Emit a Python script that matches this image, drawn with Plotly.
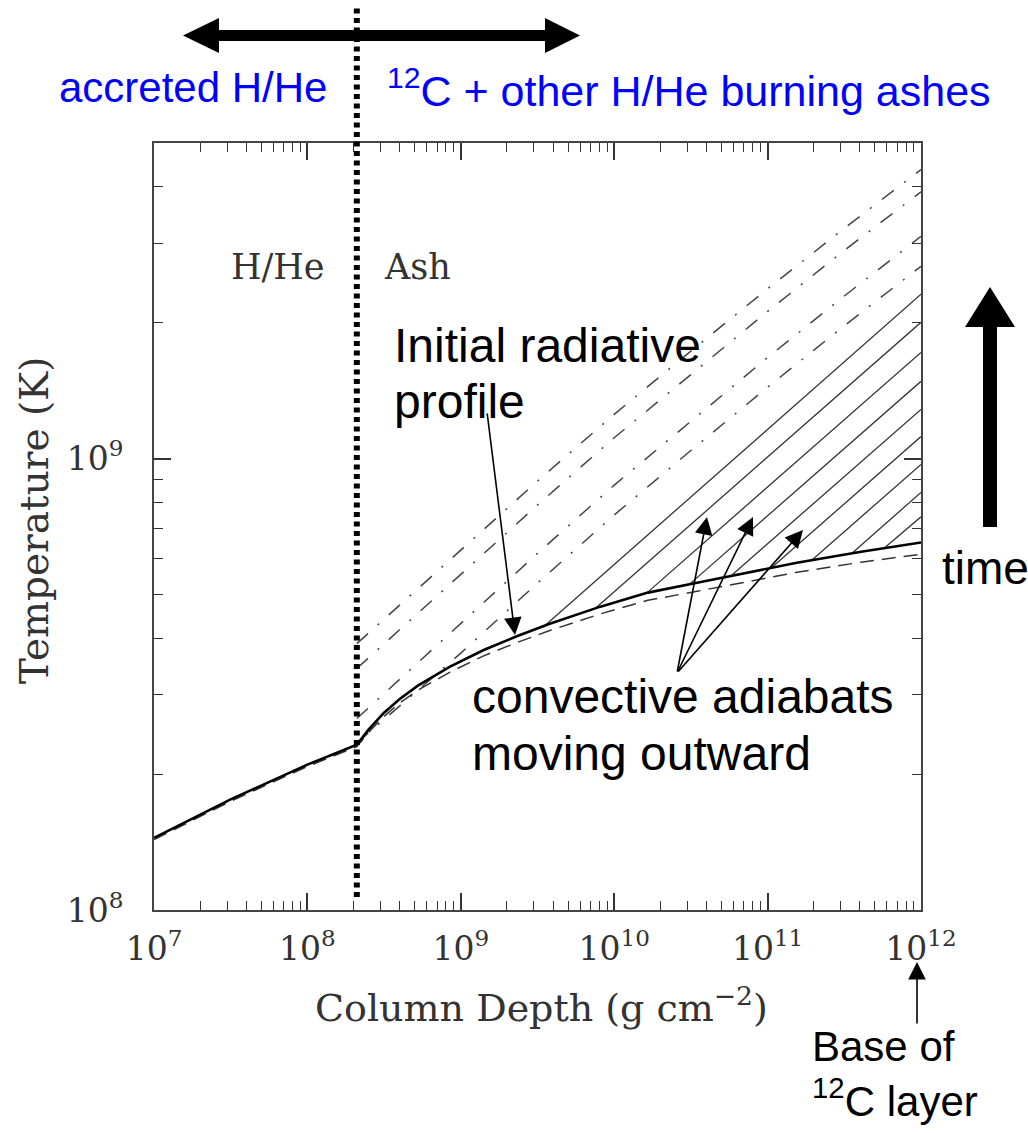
import plotly.graph_objects as go

# ---------------- data ----------------
# Initial radiative temperature profile (column depth in g cm^-2, T in 1e8 K)
profile_y = [1e7, 3.16e7, 1e8, 2.1e8, 2.51e8, 3.16e8, 3.98e8, 5.25e8, 8.51e8, 1.41e9,
             2.34e9, 3.80e9, 8.13e9, 1.66e10, 3.47e10, 7.41e10, 1.55e11, 4.17e11, 1e12]
profile_T8 = [1.445, 1.758, 2.099, 2.323, 2.512, 2.735, 2.931, 3.141, 3.459, 3.767,
              4.046, 4.305, 4.699, 5.047, 5.309, 5.585, 5.875, 6.223, 6.516]

# Comparison profile (dashed)
dashed_T8 = [1.432, 1.742, 2.080, 2.301, 2.477, 2.685, 2.871, 3.069, 3.365, 3.656,
             3.917, 4.159, 4.529, 4.853, 5.082, 5.333, 5.598, 5.902, 6.138]

# Convective adiabats at successive times (dash-dot), from the ash boundary outward
adiabat_y = [2.1e8, 1e9, 3.16e9, 1e10, 3.16e10, 1e11, 3.16e11, 1e12]
adiabat_T8 = {
    "a": [3.890, 6.281, 8.913, 12.53, 17.30, 23.77, 32.36, 43.65],
    "b": [3.428, 5.546, 7.889, 11.12, 15.38, 21.18, 28.91, 38.99],
    "c": [2.655, 4.315, 6.166, 8.730, 12.11, 16.75, 22.91, 31.05],
    "d": [2.344, 3.707, 5.297, 7.499, 10.42, 14.39, 19.68, 26.67],
}

# Hatched convective region: each adiabat runs from the radiative profile to the base
hatch_y0 = [3.45e9, 7.64e9, 1.64e10, 3.13e10, 5.81e10, 1.06e11, 1.93e11, 3.52e11, 5.69e11]
hatch_T8_0 = [4.236, 4.677, 5.047, 5.284, 5.508, 5.728, 5.943, 6.152, 6.310]
hatch_y1 = [1e12] * 9
hatch_T8_1 = [23.12, 20.04, 17.18, 14.83, 12.85, 11.19, 9.705, 8.414, 7.430]

# Boundary between accreted H/He and burning ashes
ash_boundary = 2.1e8

x_tickvals = [1e7, 1e8, 1e9, 1e10, 1e11, 1e12]
x_ticktext = ["10<sup>7</sup>", "10<sup>8</sup>", "10<sup>9</sup>",
              "10<sup>10</sup>", "10<sup>11</sup>", "10<sup>12</sup>"]
y_tickvals = [1e8, 1e9]
y_ticktext = ["10<sup>8</sup>", "10<sup>9</sup>"]

# ---------------- layout geometry ----------------
W, H = 1028, 1133
L, R, T, B = 154, 107, 143, 223
PW, PH = W - L - R, H - T - B


def pxx(px):
    return (px - L) / PW


def pxy(py):
    return (H - B - py) / PH


SERIF = "DejaVu Serif, serif"
SANS = "Arial, Liberation Sans, sans-serif"
INK = "#333333"

fig = go.Figure()

# hatch lines
hx, hy = [], []
for x0, t0, x1, t1 in zip(hatch_y0, hatch_T8_0, hatch_y1, hatch_T8_1):
    hx += [x0, x1, None]
    hy += [t0 * 1e8, t1 * 1e8, None]
fig.add_trace(go.Scatter(x=hx, y=hy, mode="lines",
                         line=dict(color=INK, width=1.3), hoverinfo="skip"))

# dash-dot adiabats
for key, vals in adiabat_T8.items():
    fig.add_trace(go.Scatter(x=adiabat_y, y=[v * 1e8 for v in vals], mode="lines",
                             line=dict(color="#444444", width=1.5,
                                       dash="15px,13px,2px,13px"),
                             hoverinfo="skip"))

# dashed profile
fig.add_trace(go.Scatter(x=profile_y, y=[v * 1e8 for v in dashed_T8], mode="lines",
                         line=dict(color=INK, width=1.5, dash="14px,8px"),
                         hoverinfo="skip"))

# initial radiative profile
fig.add_trace(go.Scatter(x=profile_y, y=[v * 1e8 for v in profile_T8], mode="lines",
                         line=dict(color="black", width=2.6), hoverinfo="skip"))

minor_x = [m * 10 ** e for e in range(7, 12) for m in range(2, 10)]
minor_y = [m * 1e8 for m in range(2, 10)] + [m * 1e9 for m in range(2, 6)]

axis_common = dict(
    type="log", showgrid=False, zeroline=False, showline=True,
    linecolor="#444444", linewidth=2, mirror="ticks",
    ticks="inside", ticklen=17, tickwidth=1.5, tickcolor=INK,
    tickfont=dict(family=SERIF, size=33, color=INK),
)

fig.update_xaxes(**axis_common, range=[7, 12], tickmode="array",
                 tickvals=x_tickvals, ticktext=x_ticktext, ticklabelstandoff=8,
                 minor=dict(tickmode="array", tickvals=minor_x, ticks="inside",
                            ticklen=9, tickwidth=1.2, tickcolor=INK, showgrid=False))
fig.update_yaxes(**axis_common, range=[8, 9.699], tickmode="array",
                 tickvals=y_tickvals, ticktext=y_ticktext, ticklabelstandoff=22,
                 minor=dict(tickmode="array", tickvals=minor_y, ticks="inside",
                            ticklen=9, tickwidth=1.2, tickcolor=INK, showgrid=False))

shapes = []
# thick dotted boundary line, extending above the frame
shapes.append(dict(type="line", xref="x", yref="paper", x0=ash_boundary, x1=ash_boundary,
                   y0=pxy(897), y1=pxy(8), line=dict(color="black", width=6,
                                                      dash="5px,4.5px"), layer="above"))


def poly(points):
    return "M " + " L ".join(f"{pxx(a):.5f},{pxy(b):.5f}" for a, b in points) + " Z"


# double-headed arrow at top
shapes.append(dict(type="path", xref="paper", yref="paper", fillcolor="black",
                   line=dict(width=0),
                   path=poly([(216, 30), (548, 30), (548, 41), (216, 41)])))
shapes.append(dict(type="path", xref="paper", yref="paper", fillcolor="black",
                   line=dict(width=0),
                   path=poly([(183, 35.5), (219, 18), (219, 53)])))
shapes.append(dict(type="path", xref="paper", yref="paper", fillcolor="black",
                   line=dict(width=0),
                   path=poly([(580, 35.5), (545, 18), (545, 53)])))
# upward "time" arrow
shapes.append(dict(type="path", xref="paper", yref="paper", fillcolor="black",
                   line=dict(width=0),
                   path=poly([(983, 325), (997, 325), (997, 527), (983, 527)])))
shapes.append(dict(type="path", xref="paper", yref="paper", fillcolor="black",
                   line=dict(width=0),
                   path=poly([(990, 287), (1015, 327), (965, 327)])))

anns = []


def text(s, x, y, size, family=SANS, color="black", xanchor="left", angle=0):
    anns.append(dict(text=s, xref="paper", yref="paper", x=pxx(x), y=pxy(y),
                     xanchor=xanchor, yanchor="middle", showarrow=False, align="left",
                     textangle=angle, font=dict(family=family, size=size, color=color)))


def arrow(tip, tail, width=1.6, size=2.2):
    anns.append(dict(text="", xref="paper", yref="paper", x=pxx(tip[0]), y=pxy(tip[1]),
                     ax=tail[0] - tip[0], ay=tail[1] - tip[1], axref="pixel",
                     ayref="pixel", showarrow=True, arrowhead=2, arrowsize=size,
                     arrowwidth=width, arrowcolor="black"))


text("accreted H/He", 57, 88, 42, color="#0000ff")
text("<sup>12</sup>C + other H/He burning ashes", 385, 88, 43, color="#0000ff")
text("H/He", 278, 267, 35, family=SERIF, color=INK, xanchor="center")
text("Ash", 417, 267, 35, family=SERIF, color=INK, xanchor="center")
text("Initial radiative", 392, 345, 48)
text("profile", 392, 401, 48)
text("convective adiabats", 470, 696, 48)
text("moving outward", 470, 753, 48)
text("time", 940, 568, 46)
text("Base of<br><sup>12</sup>C layer", 810, 1074, 42)
text("Column Depth (g cm<sup>\u22122</sup>)", 541, 1005, 38, family=SERIF, color=INK,
     xanchor="center")
text("Temperature (K)", 34, 521, 39, family=SERIF, color=INK, xanchor="center", angle=-90)

arrow((515, 635), (487, 412))
arrow((707, 517), (677, 673))
arrow((753, 517), (677, 673))
arrow((803, 530), (677, 673))
arrow((917, 962), (917, 1025))

fig.update_layout(
    width=W, height=H, margin=dict(l=L, r=R, t=T, b=B, pad=0),
    paper_bgcolor="white", plot_bgcolor="white", showlegend=False,
    shapes=shapes, annotations=anns,
)

fig.write_html("out.html")
